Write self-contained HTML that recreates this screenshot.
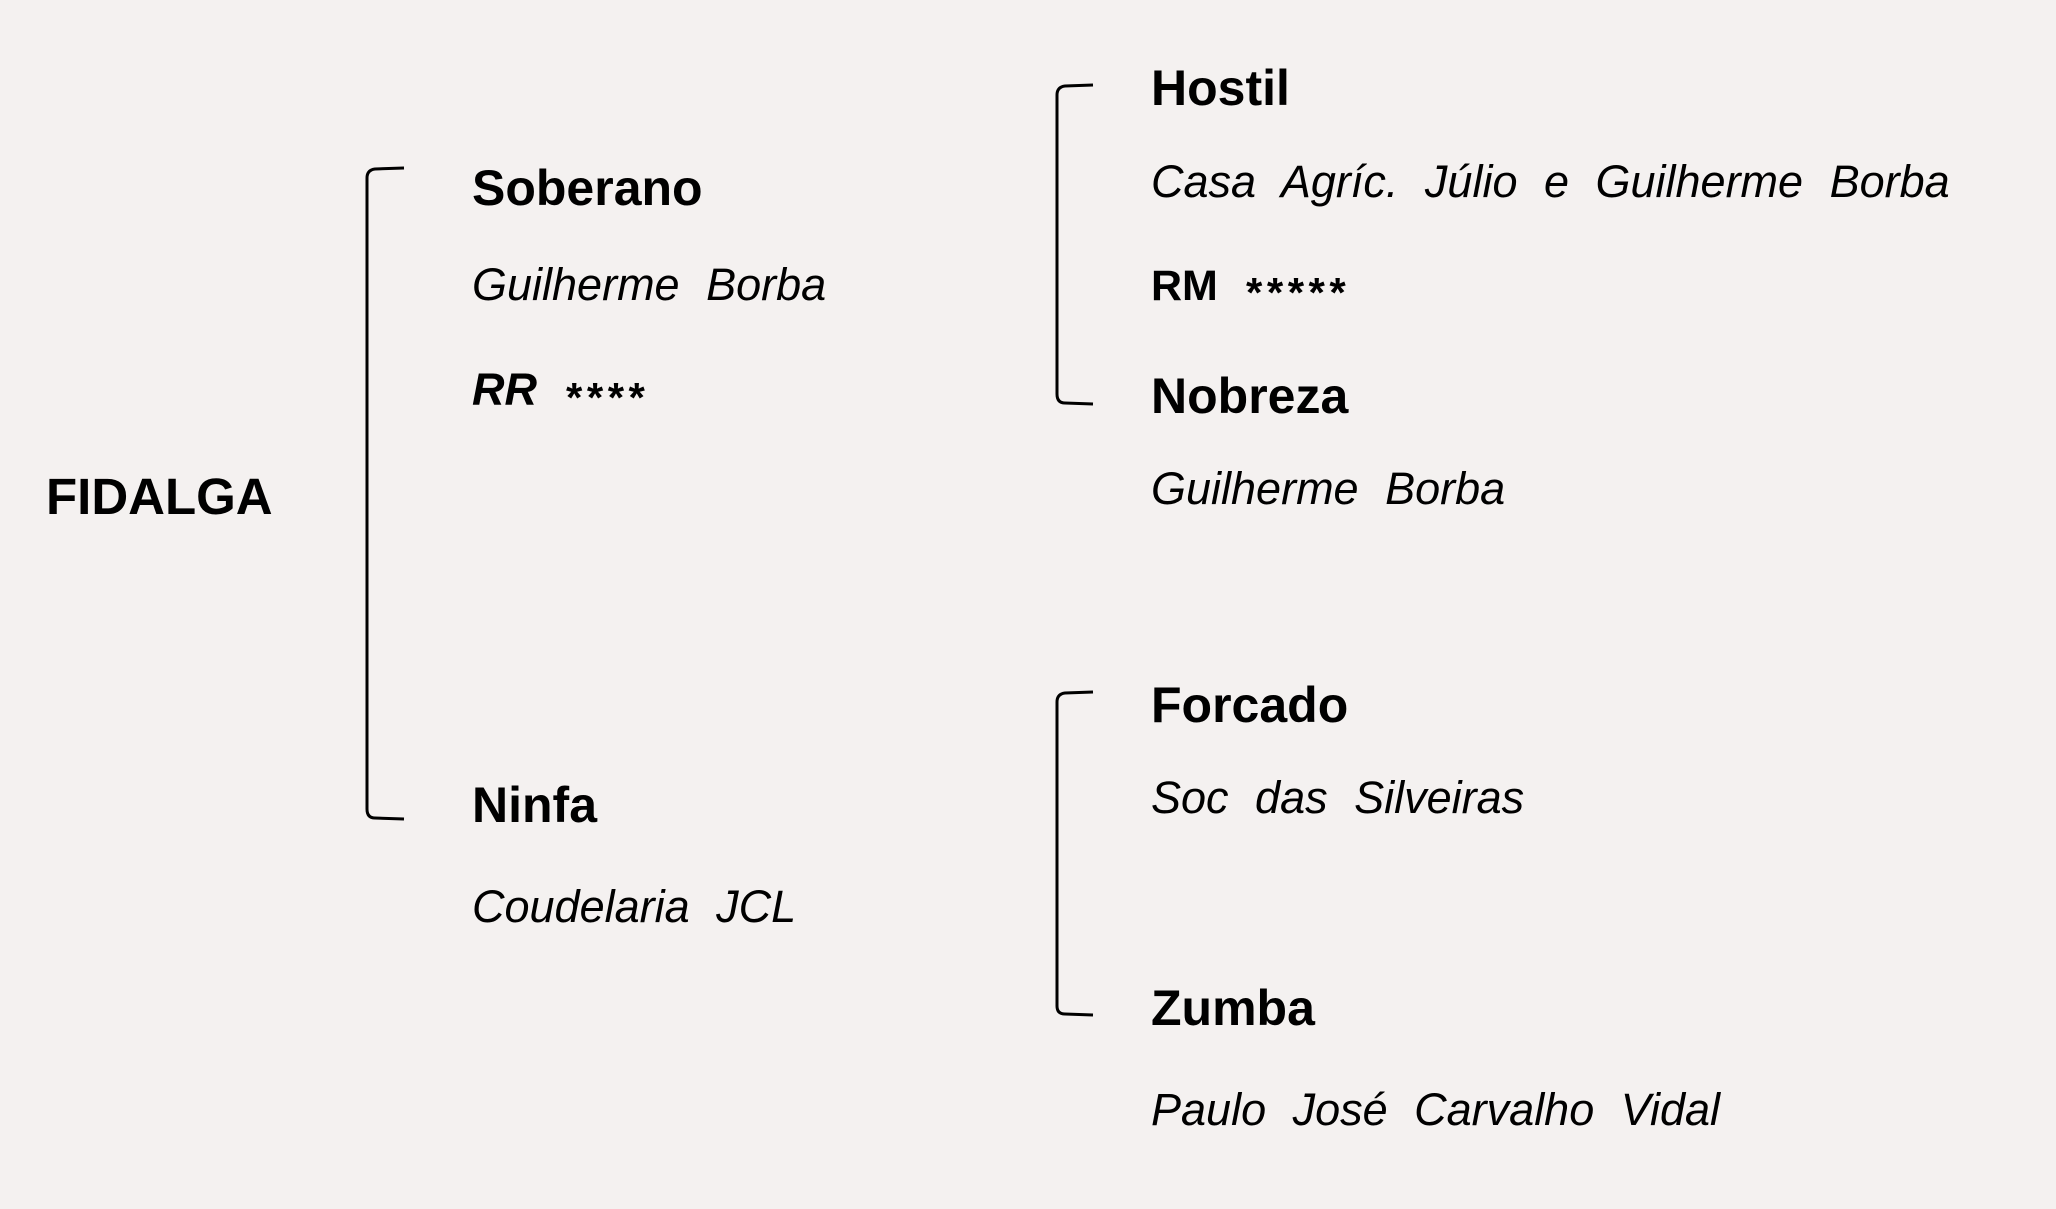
<!DOCTYPE html>
<html><head><meta charset="utf-8"><style>
html,body{margin:0;padding:0;background:#f4f1f0;}
svg{display:block}
.b{font-family:"Liberation Sans",sans-serif;font-weight:bold;font-size:50px;fill:#000}
.i{font-family:"Liberation Sans",sans-serif;font-style:italic;font-size:45px;fill:#000;word-spacing:14px}
.st{font-family:"Liberation Sans",sans-serif;font-weight:bold;font-size:42px;fill:#000;letter-spacing:4.5px}
</style></head><body>
<svg width="2056" height="1209" viewBox="0 0 2056 1209" xmlns="http://www.w3.org/2000/svg">
<rect width="2056" height="1209" fill="#f4f1f0"/>
<g fill="none" stroke="#000" stroke-width="3">
<path d="M404 168 L375 169 Q367 170 367 178 L367 809 Q367 818 375 818 L404 819"/>
<path d="M1093 85 L1065 86 Q1057 87 1057 95 L1057 394 Q1057 403 1065 403 L1093 404"/>
<path d="M1093 692 L1065 693 Q1057 694 1057 702 L1057 1006 Q1057 1014 1065 1014 L1093 1015"/>
</g>
<text class="b" x="46" y="514" style="font-size:51px">FIDALGA</text>
<text class="b" x="472" y="205">Soberano</text>
<text class="i" x="472" y="300">Guilherme  Borba</text>
<text x="472" y="405" style="font-family:'Liberation Sans',sans-serif;font-style:italic;font-weight:bold;font-size:45px">RR</text>
<text class="st" x="566" y="412">****</text>
<text class="b" x="472" y="822">Ninfa</text>
<text class="i" x="472" y="922">Coudelaria  JCL</text>
<text class="b" x="1151" y="105">Hostil</text>
<text class="i" x="1151" y="197">Casa  Agríc.  Júlio  e  Guilherme  Borba</text>
<text class="b" x="1151" y="300" style="font-size:43px">RM</text>
<text class="st" x="1246" y="307">*****</text>
<text class="b" x="1151" y="413">Nobreza</text>
<text class="i" x="1151" y="504">Guilherme  Borba</text>
<text class="b" x="1151" y="722">Forcado</text>
<text class="i" x="1151" y="813">Soc  das  Silveiras</text>
<text class="b" x="1151" y="1025">Zumba</text>
<text class="i" x="1151" y="1125">Paulo  José  Carvalho  Vidal</text>
</svg>
</body></html>
